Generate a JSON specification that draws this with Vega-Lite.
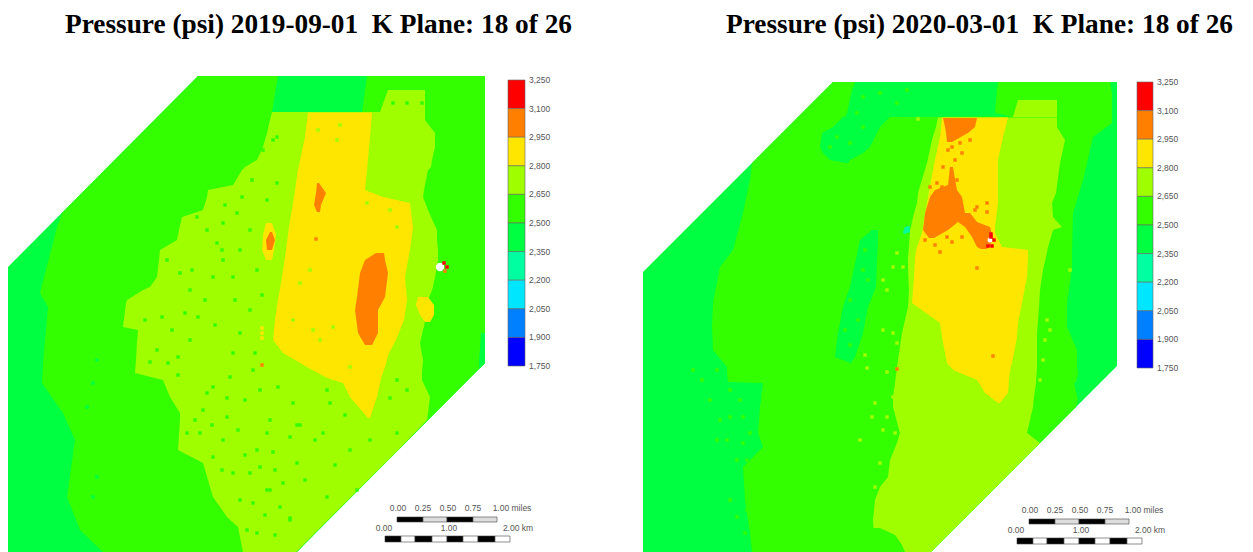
{"$schema":"https://vega.github.io/schema/vega-lite/v6.json","padding":0,"spacing":0,"background":"white","config":{"view":{"stroke":null},"concat":{"spacing":0}},
"datasets":{
"zones1":[
{"z":"o","p":2400,"y":76,"a":198,"b":485},{"z":"o","p":2400,"y":267,"a":8,"b":485},{"z":"o","p":2400,"y":363,"a":8,"b":485},{"z":"o","p":2400,"y":552,"a":8,"b":297},
{"z":"A","p":2575,"y":76,"a":198,"b":485},{"z":"A","p":2575,"y":213,"a":62,"b":485},{"z":"A","p":2575,"y":227,"a":57,"b":485},{"z":"A","p":2575,"y":293,"a":40,"b":485},{"z":"A","p":2575,"y":307,"a":48,"b":485},{"z":"A","p":2575,"y":363,"a":43,"b":485},{"z":"A","p":2575,"y":383,"a":42,"b":465},{"z":"A","p":2575,"y":413,"a":63,"b":435},{"z":"A","p":2575,"y":440,"a":75,"b":408},{"z":"A","p":2575,"y":497,"a":67,"b":351},{"z":"A","p":2575,"y":530,"a":80,"b":318},{"z":"A","p":2575,"y":552,"a":103,"b":297},
{"z":"k","p":2400,"y":76,"a":278,"b":367},{"z":"k","p":2400,"y":112,"a":272,"b":362},
{"z":"e","p":2400,"y":333,"a":481,"b":485},{"z":"e","p":2400,"y":363,"a":479,"b":485},{"z":"e","p":2400,"y":369,"a":479,"b":479},
{"z":"l","p":2725,"y":90,"a":388,"b":425},{"z":"l","p":2725,"y":112,"a":380,"b":425},
{"z":"B","p":2725,"y":112,"a":272,"b":425},{"z":"B","p":2725,"y":120,"a":270,"b":425},{"z":"B","p":2725,"y":133,"a":267,"b":435},{"z":"B","p":2725,"y":147,"a":263,"b":435},{"z":"B","p":2725,"y":160,"a":257,"b":432},{"z":"B","p":2725,"y":167,"a":245,"b":431},{"z":"B","p":2725,"y":170,"a":242,"b":428},{"z":"B","p":2725,"y":185,"a":233,"b":425},{"z":"B","p":2725,"y":190,"a":208,"b":424},{"z":"B","p":2725,"y":197,"a":207,"b":423},{"z":"B","p":2725,"y":210,"a":203,"b":428},{"z":"B","p":2725,"y":217,"a":182,"b":431},{"z":"B","p":2725,"y":230,"a":179,"b":437},{"z":"B","p":2725,"y":240,"a":177,"b":437},{"z":"B","p":2725,"y":250,"a":160,"b":438},{"z":"B","p":2725,"y":260,"a":159,"b":438},{"z":"B","p":2725,"y":277,"a":157,"b":435},{"z":"B","p":2725,"y":287,"a":150,"b":433},{"z":"B","p":2725,"y":290,"a":143,"b":432},{"z":"B","p":2725,"y":300,"a":127,"b":428},{"z":"B","p":2725,"y":303,"a":126,"b":427},{"z":"B","p":2725,"y":327,"a":123,"b":424},{"z":"B","p":2725,"y":330,"a":138,"b":423},{"z":"B","p":2725,"y":343,"a":137,"b":420},{"z":"B","p":2725,"y":360,"a":136,"b":423},{"z":"B","p":2725,"y":373,"a":135,"b":422},{"z":"B","p":2725,"y":380,"a":163,"b":422},{"z":"B","p":2725,"y":397,"a":170,"b":430},{"z":"B","p":2725,"y":413,"a":180,"b":428},{"z":"B","p":2725,"y":420,"a":180,"b":427},{"z":"B","p":2725,"y":450,"a":178,"b":398},{"z":"B","p":2725,"y":463,"a":203,"b":385},{"z":"B","p":2725,"y":497,"a":213,"b":351},{"z":"B","p":2725,"y":517,"a":227,"b":331},{"z":"B","p":2725,"y":527,"a":238,"b":321},{"z":"B","p":2725,"y":552,"a":243,"b":296},
{"z":"C","p":2875,"y":112.5,"a":308,"b":372},{"z":"C","p":2875,"y":137,"a":305,"b":370},{"z":"C","p":2875,"y":170,"a":298,"b":367},{"z":"C","p":2875,"y":190,"a":295,"b":365},{"z":"C","p":2875,"y":197,"a":294,"b":383},{"z":"C","p":2875,"y":203,"a":293,"b":410},{"z":"C","p":2875,"y":227,"a":289,"b":413},{"z":"C","p":2875,"y":250,"a":286,"b":410},{"z":"C","p":2875,"y":277,"a":282,"b":405},{"z":"C","p":2875,"y":300,"a":278,"b":407},{"z":"C","p":2875,"y":320,"a":275,"b":404},{"z":"C","p":2875,"y":340,"a":273,"b":396},{"z":"C","p":2875,"y":353,"a":283,"b":389},{"z":"C","p":2875,"y":367,"a":307,"b":385},{"z":"C","p":2875,"y":378,"a":327,"b":381},{"z":"C","p":2875,"y":383,"a":343,"b":380},{"z":"C","p":2875,"y":397,"a":350,"b":377},{"z":"C","p":2875,"y":418,"a":368,"b":370},
{"z":"c2","p":2875,"y":297,"a":418,"b":428},{"z":"c2","p":2875,"y":305,"a":416,"b":434},{"z":"c2","p":2875,"y":315,"a":420,"b":434},{"z":"c2","p":2875,"y":322,"a":425,"b":430},
{"z":"c3","p":2875,"y":223,"a":266,"b":272},{"z":"c3","p":2875,"y":235,"a":263,"b":276},{"z":"c3","p":2875,"y":250,"a":262,"b":274},{"z":"c3","p":2875,"y":260,"a":266,"b":272},
{"z":"D","p":3025,"y":253,"a":376,"b":384},{"z":"D","p":3025,"y":260,"a":365,"b":385},{"z":"D","p":3025,"y":273,"a":360,"b":388},{"z":"D","p":3025,"y":297,"a":357,"b":385},{"z":"D","p":3025,"y":310,"a":355,"b":378},{"z":"D","p":3025,"y":333,"a":358,"b":378},{"z":"D","p":3025,"y":345,"a":365,"b":372},
{"z":"d2","p":3025,"y":183,"a":317,"b":319},{"z":"d2","p":3025,"y":193,"a":316,"b":326},{"z":"d2","p":3025,"y":205,"a":314,"b":321},{"z":"d2","p":3025,"y":212,"a":317,"b":320},
{"z":"d3","p":3025,"y":232,"a":270,"b":272},{"z":"d3","p":3025,"y":240,"a":266,"b":275},{"z":"d3","p":3025,"y":250,"a":267,"b":272}
],
"specksOther1":[
{"a":145,"y":320,"p":2575},{"a":162,"y":317,"p":2575},{"a":185,"y":313,"p":2575},{"a":198,"y":317,"p":2575},{"a":157,"y":350,"p":2575},{"a":150,"y":362,"p":2575},{"a":168,"y":363,"p":2575},{"a":178,"y":357,"p":2575},{"a":207,"y":393,"p":2575},{"a":227,"y":398,"p":2575},{"a":227,"y":417,"p":2575},{"a":203,"y":410,"p":2575},{"a":195,"y":420,"p":2575},{"a":200,"y":433,"p":2575},{"a":223,"y":440,"p":2575},{"a":213,"y":457,"p":2575},{"a":233,"y":353,"p":2575},{"a":255,"y":353,"p":2575},{"a":260,"y":390,"p":2575},{"a":230,"y":377,"p":2575},{"a":213,"y":387,"p":2575},{"a":240,"y":333,"p":2575},{"a":270,"y":420,"p":2575},{"a":267,"y":433,"p":2575},{"a":257,"y":450,"p":2575},{"a":260,"y":467,"p":2575},{"a":250,"y":473,"p":2575},{"a":267,"y":490,"p":2575},{"a":240,"y":500,"p":2575},{"a":253,"y":503,"p":2575},{"a":280,"y":507,"p":2575},{"a":290,"y":518,"p":2575},{"a":247,"y":530,"p":2575},{"a":257,"y":533,"p":2575},{"a":273,"y":452,"p":2575},{"a":297,"y":425,"p":2575},{"a":293,"y":403,"p":2575},{"a":278,"y":387,"p":2575},{"a":233,"y":473,"p":2575},{"a":187,"y":433,"p":2575},
{"a":273,"y":140,"p":2575},{"a":263,"y":150,"p":2575},{"a":242,"y":197,"p":2575},{"a":237,"y":213,"p":2575},{"a":223,"y":223,"p":2575},{"a":207,"y":230,"p":2575},{"a":192,"y":270,"p":2575},{"a":180,"y":273,"p":2575},{"a":213,"y":277,"p":2575},{"a":233,"y":277,"p":2575},{"a":223,"y":260,"p":2575},{"a":222,"y":250,"p":2575},{"a":197,"y":217,"p":2575},{"a":277,"y":183,"p":2575},{"a":267,"y":200,"p":2575},{"a":240,"y":250,"p":2575},{"a":217,"y":243,"p":2575},{"a":167,"y":260,"p":2575},{"a":257,"y":270,"p":2575},{"a":250,"y":230,"p":2575},
{"a":300,"y":425,"p":2575},{"a":290,"y":437,"p":2575},{"a":323,"y":433,"p":2575},{"a":297,"y":463,"p":2575},{"a":330,"y":403,"p":2575},{"a":327,"y":390,"p":2575},{"a":397,"y":380,"p":2575},{"a":407,"y":390,"p":2575},{"a":390,"y":398,"p":2575},{"a":397,"y":433,"p":2575},{"a":350,"y":450,"p":2575},{"a":327,"y":497,"p":2575},{"a":270,"y":490,"p":2575},{"a":290,"y":520,"p":2575},{"a":357,"y":490,"p":2575},{"a":283,"y":483,"p":2575},{"a":253,"y":370,"p":2575},{"a":393,"y":103,"p":2575},{"a":407,"y":103,"p":2575},{"a":422,"y":103,"p":2575},{"a":277,"y":137,"p":2575},
{"a":172,"y":330,"p":2575},{"a":190,"y":340,"p":2575},{"a":215,"y":325,"p":2575},{"a":178,"y":375,"p":2575},{"a":245,"y":400,"p":2575},{"a":212,"y":425,"p":2575},{"a":238,"y":430,"p":2575},{"a":222,"y":470,"p":2575},{"a":245,"y":455,"p":2575},{"a":275,"y":470,"p":2575},{"a":305,"y":480,"p":2575},{"a":315,"y":440,"p":2575},{"a":345,"y":415,"p":2575},{"a":370,"y":440,"p":2575},{"a":335,"y":465,"p":2575},{"a":265,"y":515,"p":2575},{"a":275,"y":535,"p":2575},{"a":190,"y":290,"p":2575},{"a":205,"y":300,"p":2575},{"a":235,"y":300,"p":2575},{"a":250,"y":310,"p":2575},{"a":262,"y":295,"p":2575},{"a":225,"y":205,"p":2575},{"a":252,"y":180,"p":2575},
{"a":340,"y":125,"p":2725},{"a":318,"y":130,"p":2725},{"a":337,"y":140,"p":2725},{"a":370,"y":190,"p":2725},{"a":367,"y":203,"p":2725},{"a":390,"y":210,"p":2725},{"a":397,"y":227,"p":2725},{"a":310,"y":270,"p":2725},{"a":300,"y":283,"p":2725},{"a":320,"y":340,"p":2725},{"a":313,"y":330,"p":2725},{"a":333,"y":327,"p":2725},{"a":293,"y":320,"p":2725},{"a":350,"y":367,"p":2725},
{"a":262,"y":328,"p":2875},{"a":262,"y":333,"p":2875},{"a":262,"y":338,"p":2875},{"a":262,"y":365,"p":3025},{"a":316,"y":239,"p":3025},
{"a":93,"y":497,"p":2400},{"a":97,"y":477,"p":2400},{"a":87,"y":407,"p":2400},{"a":93,"y":383,"p":2400},{"a":97,"y":360,"p":2400},{"a":444,"y":263,"p":3200},{"a":447,"y":267,"p":3200},{"a":445,"y":271,"p":3025}
],
"nodata1":[{"a":440,"y":267}],
"bar1":[{"a":508,"b":525,"y":80,"y2":108.6,"p":3175},{"a":508,"b":525,"y":108.6,"y2":137.2,"p":3025},{"a":508,"b":525,"y":137.2,"y2":165.8,"p":2875},{"a":508,"b":525,"y":165.8,"y2":194.4,"p":2725},{"a":508,"b":525,"y":194.4,"y2":223,"p":2575},{"a":508,"b":525,"y":223,"y2":251.6,"p":2425},{"a":508,"b":525,"y":251.6,"y2":280.2,"p":2275},{"a":508,"b":525,"y":280.2,"y2":308.8,"p":2125},{"a":508,"b":525,"y":308.8,"y2":337.4,"p":1975},{"a":508,"b":525,"y":337.4,"y2":366,"p":1825}],
"scale1":[{"a":397,"b":423,"y":517,"y2":522,"s":"dark"},{"a":423,"b":447,"y":517,"y2":522,"s":"mid"},{"a":447,"b":473,"y":517,"y2":522,"s":"dark"},{"a":473,"b":497,"y":517,"y2":522,"s":"mid"},{"a":385,"b":401,"y":536,"y2":542,"s":"dark"},{"a":401,"b":415,"y":536,"y2":542,"s":"light"},{"a":415,"b":432,"y":536,"y2":542,"s":"dark"},{"a":432,"b":447,"y":536,"y2":542,"s":"light"},{"a":447,"b":463,"y":536,"y2":542,"s":"dark"},{"a":463,"b":478,"y":536,"y2":542,"s":"light"},{"a":478,"b":495,"y":536,"y2":542,"s":"dark"},{"a":495,"b":510,"y":536,"y2":542,"s":"light"}],
"barLabels1":[{"a":529,"y":80,"t":"3,250"},{"a":529,"y":108.6,"t":"3,100"},{"a":529,"y":137.2,"t":"2,950"},{"a":529,"y":165.8,"t":"2,800"},{"a":529,"y":194.4,"t":"2,650"},{"a":529,"y":223,"t":"2,500"},{"a":529,"y":251.6,"t":"2,350"},{"a":529,"y":280.2,"t":"2,200"},{"a":529,"y":308.8,"t":"2,050"},{"a":529,"y":337.4,"t":"1,900"},{"a":529,"y":366,"t":"1,750"}],
"scaleLabels1":[{"a":398,"y":508,"t":"0.00"},{"a":423,"y":508,"t":"0.25"},{"a":448,"y":508,"t":"0.50"},{"a":473,"y":508,"t":"0.75"},{"a":512,"y":508,"t":"1.00 miles"},{"a":384,"y":528,"t":"0.00"},{"a":449,"y":528,"t":"1.00"},{"a":518,"y":528,"t":"2.00 km"}],
"zones2":[
{"z":"o","p":2400,"y":82,"a":833,"b":1117},{"z":"o","p":2400,"y":272,"a":643,"b":1117},{"z":"o","p":2400,"y":366,"a":643,"b":1117},{"z":"o","p":2400,"y":552,"a":643,"b":931},
{"z":"A","p":2575,"y":82,"a":833,"b":1110},{"z":"A","p":2575,"y":93,"a":822,"b":1112},{"z":"A","p":2575,"y":123,"a":792,"b":1112},{"z":"A","p":2575,"y":137,"a":778,"b":1093},{"z":"A","p":2575,"y":163,"a":752,"b":1087},{"z":"A","p":2575,"y":180,"a":750,"b":1083},{"z":"A","p":2575,"y":213,"a":743,"b":1073},{"z":"A","p":2575,"y":250,"a":733,"b":1072},{"z":"A","p":2575,"y":267,"a":720,"b":1072},{"z":"A","p":2575,"y":303,"a":713,"b":1067},{"z":"A","p":2575,"y":327,"a":712,"b":1067},{"z":"A","p":2575,"y":350,"a":713,"b":1077},{"z":"A","p":2575,"y":367,"a":727,"b":1077},{"z":"A","p":2575,"y":373,"a":727,"b":1078},{"z":"A","p":2575,"y":382,"a":728,"b":1076},{"z":"A","p":2575,"y":383,"a":763,"b":1074},{"z":"A","p":2575,"y":400,"a":761,"b":1078},{"z":"A","p":2575,"y":407,"a":760,"b":1076},{"z":"A","p":2575,"y":433,"a":758,"b":1050},{"z":"A","p":2575,"y":447,"a":763,"b":1036},{"z":"A","p":2575,"y":467,"a":743,"b":1016},{"z":"A","p":2575,"y":500,"a":745,"b":983},{"z":"A","p":2575,"y":533,"a":750,"b":950},{"z":"A","p":2575,"y":552,"a":752,"b":931},
{"z":"k","p":2400,"y":82,"a":855,"b":998},{"z":"k","p":2400,"y":90,"a":852,"b":997},{"z":"k","p":2400,"y":113,"a":847,"b":995},{"z":"k","p":2400,"y":116.5,"a":845,"b":1012},{"z":"k","p":2400,"y":117,"a":843,"b":890},{"z":"k","p":2400,"y":127,"a":833,"b":880},{"z":"k","p":2400,"y":133,"a":822,"b":877},{"z":"k","p":2400,"y":147,"a":820,"b":870},{"z":"k","p":2400,"y":153,"a":823,"b":863},{"z":"k","p":2400,"y":160,"a":830,"b":850},{"z":"k","p":2400,"y":163,"a":845,"b":848},
{"z":"s","p":2400,"y":230,"a":872,"b":878},{"z":"s","p":2400,"y":240,"a":860,"b":878},{"z":"s","p":2400,"y":287,"a":850,"b":876},{"z":"s","p":2400,"y":307,"a":843,"b":868},{"z":"s","p":2400,"y":333,"a":838,"b":863},{"z":"s","p":2400,"y":357,"a":835,"b":855},{"z":"s","p":2400,"y":363,"a":850,"b":851},
{"z":"l","p":2725,"y":100,"a":1018,"b":1057},{"z":"l","p":2725,"y":117,"a":1013,"b":1057},
{"z":"B","p":2725,"y":117.5,"a":938,"b":1057},{"z":"B","p":2725,"y":127,"a":936,"b":1057},{"z":"B","p":2725,"y":140,"a":932,"b":1065},{"z":"B","p":2725,"y":163,"a":927,"b":1060},{"z":"B","p":2725,"y":193,"a":918,"b":1056},{"z":"B","p":2725,"y":203,"a":917,"b":1052},{"z":"B","p":2725,"y":217,"a":913,"b":1053},{"z":"B","p":2725,"y":227,"a":911,"b":1062},{"z":"B","p":2725,"y":230,"a":910,"b":1053},{"z":"B","p":2725,"y":247,"a":909,"b":1048},{"z":"B","p":2725,"y":257,"a":908,"b":1046},{"z":"B","p":2725,"y":270,"a":908,"b":1043},{"z":"B","p":2725,"y":290,"a":909,"b":1040},{"z":"B","p":2725,"y":307,"a":908,"b":1039},{"z":"B","p":2725,"y":333,"a":902,"b":1037},{"z":"B","p":2725,"y":367,"a":897,"b":1037},{"z":"B","p":2725,"y":383,"a":895,"b":1036},{"z":"B","p":2725,"y":397,"a":893,"b":1034},{"z":"B","p":2725,"y":407,"a":893,"b":1033},{"z":"B","p":2725,"y":433,"a":900,"b":1027},{"z":"B","p":2725,"y":443,"a":897,"b":1040},{"z":"B","p":2725,"y":460,"a":890,"b":1023},{"z":"B","p":2725,"y":477,"a":888,"b":1006},{"z":"B","p":2725,"y":487,"a":880,"b":996},{"z":"B","p":2725,"y":500,"a":875,"b":983},{"z":"B","p":2725,"y":520,"a":873,"b":963},{"z":"B","p":2725,"y":552,"a":875,"b":931},
{"z":"m","p":2575,"y":528,"a":873,"b":880},{"z":"m","p":2575,"y":535,"a":872,"b":895},{"z":"m","p":2575,"y":545,"a":872,"b":902},{"z":"m","p":2575,"y":552,"a":875,"b":905},
{"z":"C","p":2875,"y":117.5,"a":942,"b":1008},{"z":"C","p":2875,"y":137,"a":940,"b":1003},{"z":"C","p":2875,"y":160,"a":935,"b":998},{"z":"C","p":2875,"y":170,"a":933,"b":998},{"z":"C","p":2875,"y":203,"a":927,"b":998},{"z":"C","p":2875,"y":227,"a":923,"b":995},{"z":"C","p":2875,"y":233,"a":922,"b":995},{"z":"C","p":2875,"y":247,"a":917,"b":1002},{"z":"C","p":2875,"y":250,"a":916,"b":1028},{"z":"C","p":2875,"y":257,"a":915,"b":1028},{"z":"C","p":2875,"y":277,"a":914,"b":1027},{"z":"C","p":2875,"y":303,"a":912,"b":1022},{"z":"C","p":2875,"y":323,"a":940,"b":1018},{"z":"C","p":2875,"y":337,"a":942,"b":1017},{"z":"C","p":2875,"y":363,"a":947,"b":1012},{"z":"C","p":2875,"y":370,"a":953,"b":1010},{"z":"C","p":2875,"y":380,"a":977,"b":1009},{"z":"C","p":2875,"y":393,"a":985,"b":1008},{"z":"C","p":2875,"y":403,"a":998,"b":1000},
{"z":"D","p":3025,"y":118,"a":943,"b":977},{"z":"D","p":3025,"y":127,"a":945,"b":975},{"z":"D","p":3025,"y":133,"a":946,"b":968},{"z":"D","p":3025,"y":142,"a":947,"b":952},
{"z":"M1","p":3025,"y":167,"a":950,"b":953},{"z":"M1","p":3025,"y":185,"a":948,"b":956},{"z":"M1","p":3025,"y":190,"a":935,"b":957},{"z":"M1","p":3025,"y":197,"a":930,"b":962},{"z":"M1","p":3025,"y":213,"a":925,"b":965},{"z":"M1","p":3025,"y":222,"a":924,"b":958},{"z":"M1","p":3025,"y":230,"a":923,"b":948},{"z":"M1","p":3025,"y":238,"a":929,"b":934},
{"z":"M2","p":3025,"y":213,"a":962,"b":970},{"z":"M2","p":3025,"y":222,"a":958,"b":977},{"z":"M2","p":3025,"y":227,"a":965,"b":990},{"z":"M2","p":3025,"y":237,"a":972,"b":993},{"z":"M2","p":3025,"y":247,"a":977,"b":990},{"z":"M2","p":3025,"y":249,"a":981,"b":986}
],
"specksOther2":[
{"a":952,"y":147,"p":3025},{"a":960,"y":143,"p":3025},{"a":970,"y":140,"p":3025},{"a":962,"y":153,"p":3025},{"a":955,"y":160,"p":3025},{"a":948,"y":150,"p":3025},{"a":943,"y":167,"p":3025},{"a":937,"y":183,"p":3025},{"a":942,"y":187,"p":3025},{"a":930,"y":187,"p":3025},{"a":957,"y":180,"p":3025},{"a":977,"y":207,"p":3025},{"a":987,"y":203,"p":3025},{"a":987,"y":212,"p":3025},{"a":975,"y":210,"p":3025},{"a":925,"y":240,"p":3025},{"a":935,"y":245,"p":3025},{"a":940,"y":252,"p":3025},{"a":952,"y":242,"p":3025},{"a":962,"y":237,"p":3025},{"a":947,"y":237,"p":3025},{"a":977,"y":268,"p":3025},{"a":993,"y":356,"p":3025},{"a":897,"y":369,"p":3025},
{"a":897,"y":253,"p":2725},{"a":893,"y":267,"p":2725},{"a":903,"y":267,"p":2725},{"a":887,"y":290,"p":2725},{"a":883,"y":280,"p":2725},{"a":883,"y":330,"p":2725},{"a":893,"y":333,"p":2725},{"a":897,"y":343,"p":2725},{"a":865,"y":355,"p":2725},{"a":867,"y":368,"p":2725},{"a":875,"y":403,"p":2725},{"a":872,"y":417,"p":2725},{"a":887,"y":417,"p":2725},{"a":860,"y":440,"p":2725},{"a":883,"y":430,"p":2725},{"a":895,"y":433,"p":2725},{"a":880,"y":463,"p":2725},{"a":875,"y":487,"p":2725},{"a":893,"y":397,"p":2725},{"a":887,"y":372,"p":2725},{"a":1070,"y":270,"p":2725},{"a":1047,"y":320,"p":2725},{"a":1045,"y":340,"p":2725},{"a":1043,"y":360,"p":2725},{"a":1040,"y":380,"p":2725},{"a":1050,"y":330,"p":2725},{"a":918,"y":119,"p":2725},
{"a":730,"y":390,"p":2575},{"a":740,"y":400,"p":2575},{"a":720,"y":420,"p":2575},{"a":730,"y":417,"p":2575},{"a":743,"y":417,"p":2575},{"a":727,"y":440,"p":2575},{"a":743,"y":443,"p":2575},{"a":717,"y":440,"p":2575},{"a":750,"y":433,"p":2575},{"a":737,"y":460,"p":2575},{"a":747,"y":460,"p":2575},{"a":710,"y":400,"p":2575},{"a":693,"y":370,"p":2575},{"a":702,"y":380,"p":2575},{"a":717,"y":370,"p":2575},{"a":730,"y":500,"p":2575},{"a":737,"y":517,"p":2575},{"a":745,"y":533,"p":2575},{"a":747,"y":510,"p":2575},{"a":845,"y":330,"p":2575},{"a":850,"y":345,"p":2575},{"a":858,"y":320,"p":2575},{"a":850,"y":300,"p":2575},{"a":868,"y":280,"p":2575},{"a":865,"y":250,"p":2575},{"a":863,"y":270,"p":2575},{"a":863,"y":97,"p":2575},{"a":880,"y":93,"p":2575},{"a":897,"y":103,"p":2575},{"a":907,"y":90,"p":2575},{"a":857,"y":113,"p":2575},{"a":863,"y":127,"p":2575},{"a":830,"y":147,"p":2575},{"a":837,"y":137,"p":2575},{"a":850,"y":143,"p":2575},
{"a":906,"y":229,"p":2275},{"a":908,"y":231,"p":2275},{"a":905,"y":232,"p":2275},{"a":908,"y":228,"p":2275},{"a":991,"y":234,"p":3200},{"a":992,"y":246,"p":3200},{"a":994,"y":240,"p":3200},{"a":988,"y":246,"p":3200},{"a":991,"y":237,"p":3200}
],
"nodata2":[{"a":990,"y":240}],
"bar2":[{"a":1137,"b":1153,"y":82,"y2":110.6,"p":3175},{"a":1137,"b":1153,"y":110.6,"y2":139.2,"p":3025},{"a":1137,"b":1153,"y":139.2,"y2":167.8,"p":2875},{"a":1137,"b":1153,"y":167.8,"y2":196.4,"p":2725},{"a":1137,"b":1153,"y":196.4,"y2":225,"p":2575},{"a":1137,"b":1153,"y":225,"y2":253.6,"p":2425},{"a":1137,"b":1153,"y":253.6,"y2":282.2,"p":2275},{"a":1137,"b":1153,"y":282.2,"y2":310.8,"p":2125},{"a":1137,"b":1153,"y":310.8,"y2":339.4,"p":1975},{"a":1137,"b":1153,"y":339.4,"y2":368,"p":1825}],
"scale2":[{"a":1029,"b":1055,"y":519,"y2":524,"s":"dark"},{"a":1055,"b":1079,"y":519,"y2":524,"s":"mid"},{"a":1079,"b":1105,"y":519,"y2":524,"s":"dark"},{"a":1105,"b":1129,"y":519,"y2":524,"s":"mid"},{"a":1017,"b":1033,"y":538,"y2":544,"s":"dark"},{"a":1033,"b":1047,"y":538,"y2":544,"s":"light"},{"a":1047,"b":1064,"y":538,"y2":544,"s":"dark"},{"a":1064,"b":1079,"y":538,"y2":544,"s":"light"},{"a":1079,"b":1095,"y":538,"y2":544,"s":"dark"},{"a":1095,"b":1110,"y":538,"y2":544,"s":"light"},{"a":1110,"b":1127,"y":538,"y2":544,"s":"dark"},{"a":1127,"b":1142,"y":538,"y2":544,"s":"light"}],
"barLabels2":[{"a":1157,"y":82,"t":"3,250"},{"a":1157,"y":110.6,"t":"3,100"},{"a":1157,"y":139.2,"t":"2,950"},{"a":1157,"y":167.8,"t":"2,800"},{"a":1157,"y":196.4,"t":"2,650"},{"a":1157,"y":225,"t":"2,500"},{"a":1157,"y":253.6,"t":"2,350"},{"a":1157,"y":282.2,"t":"2,200"},{"a":1157,"y":310.8,"t":"2,050"},{"a":1157,"y":339.4,"t":"1,900"},{"a":1157,"y":368,"t":"1,750"}],
"scaleLabels2":[{"a":1030,"y":510,"t":"0.00"},{"a":1055,"y":510,"t":"0.25"},{"a":1080,"y":510,"t":"0.50"},{"a":1105,"y":510,"t":"0.75"},{"a":1144,"y":510,"t":"1.00 miles"},{"a":1016,"y":530,"t":"0.00"},{"a":1081,"y":530,"t":"1.00"},{"a":1150,"y":530,"t":"2.00 km"}]
},
"hconcat":[
{"width":626,"height":552,
"title":{"text":"Pressure (psi) 2019-09-01\u00a0\u00a0K Plane: 18 of 26","font":"Liberation Serif","fontSize":27.3,"fontWeight":"bold","color":"#000000","anchor":"start","frame":"group","dx":65,"offset":-38},
"encoding":{"x":{"field":"a","type":"quantitative","axis":null,"scale":{"domain":[0,626],"nice":false,"zero":false}},"y":{"field":"y","type":"quantitative","axis":null,"scale":{"domain":[0,552],"reverse":true,"nice":false,"zero":false}}},
"layer":[
{"data":{"name":"zones1"},"mark":{"type":"area","orient":"horizontal","interpolate":"linear"},"encoding":{"x2":{"field":"b"},"detail":{"field":"z"},"color":{"field":"p","type":"quantitative","legend":null,"scale":{"type":"threshold","domain":[1900,2050,2200,2350,2500,2650,2800,2950,3100],"range":["#0000ff","#0080ff","#00e6ff","#00ffa0","#00ff40","#33ff00","#9fff00","#ffe600","#ff8000","#ff0000"]}}}},
{"data":{"name":"nodata1"},"mark":{"type":"point","shape":"circle","filled":true,"size":70,"opacity":1,"color":"#ffffff"}},
{"data":{"name":"specksOther1"},"mark":{"type":"point","shape":"square","filled":true,"size":12,"opacity":1},"encoding":{"color":{"field":"p","type":"quantitative","legend":null,"scale":{"type":"threshold","domain":[1900,2050,2200,2350,2500,2650,2800,2950,3100],"range":["#0000ff","#0080ff","#00e6ff","#00ffa0","#00ff40","#33ff00","#9fff00","#ffe600","#ff8000","#ff0000"]}}}},
{"data":{"name":"bar1"},"mark":{"type":"rect","stroke":"#666666","strokeWidth":0.6},"encoding":{"x2":{"field":"b"},"y2":{"field":"y2"},"color":{"field":"p","type":"quantitative","legend":null,"scale":{"type":"threshold","domain":[1900,2050,2200,2350,2500,2650,2800,2950,3100],"range":["#0000ff","#0080ff","#00e6ff","#00ffa0","#00ff40","#33ff00","#9fff00","#ffe600","#ff8000","#ff0000"]}}}},
{"data":{"name":"scale1"},"mark":{"type":"rect","stroke":"#444444","strokeWidth":0.6},"encoding":{"x2":{"field":"b"},"y2":{"field":"y2"},"fill":{"field":"s","type":"nominal","legend":null,"scale":{"domain":["dark","mid","light"],"range":["#000000","#dddddd","#ffffff"]}}}},
{"data":{"name":"barLabels1"},"mark":{"type":"text","align":"left","baseline":"middle","font":"Liberation Sans","fontSize":8.5,"color":"#555555"},"encoding":{"text":{"field":"t"}}},
{"data":{"name":"scaleLabels1"},"mark":{"type":"text","align":"center","baseline":"middle","font":"Liberation Sans","fontSize":8.5,"color":"#555555"},"encoding":{"text":{"field":"t"}}}
]},
{"width":627,"height":552,
"title":{"text":"Pressure (psi) 2020-03-01\u00a0\u00a0K Plane: 18 of 26","font":"Liberation Serif","fontSize":27.3,"fontWeight":"bold","color":"#000000","anchor":"start","frame":"group","dx":100,"offset":-38},
"encoding":{"x":{"field":"a","type":"quantitative","axis":null,"scale":{"domain":[626,1253],"nice":false,"zero":false}},"y":{"field":"y","type":"quantitative","axis":null,"scale":{"domain":[0,552],"reverse":true,"nice":false,"zero":false}}},
"layer":[
{"data":{"name":"zones2"},"mark":{"type":"area","orient":"horizontal","interpolate":"linear"},"encoding":{"x2":{"field":"b"},"detail":{"field":"z"},"color":{"field":"p","type":"quantitative","legend":null,"scale":{"type":"threshold","domain":[1900,2050,2200,2350,2500,2650,2800,2950,3100],"range":["#0000ff","#0080ff","#00e6ff","#00ffa0","#00ff40","#33ff00","#9fff00","#ffe600","#ff8000","#ff0000"]}}}},
{"data":{"name":"nodata2"},"mark":{"type":"point","shape":"circle","filled":true,"size":25,"opacity":1,"color":"#ffffff"}},
{"data":{"name":"specksOther2"},"mark":{"type":"point","shape":"square","filled":true,"size":12,"opacity":1},"encoding":{"color":{"field":"p","type":"quantitative","legend":null,"scale":{"type":"threshold","domain":[1900,2050,2200,2350,2500,2650,2800,2950,3100],"range":["#0000ff","#0080ff","#00e6ff","#00ffa0","#00ff40","#33ff00","#9fff00","#ffe600","#ff8000","#ff0000"]}}}},
{"data":{"name":"bar2"},"mark":{"type":"rect","stroke":"#666666","strokeWidth":0.6},"encoding":{"x2":{"field":"b"},"y2":{"field":"y2"},"color":{"field":"p","type":"quantitative","legend":null,"scale":{"type":"threshold","domain":[1900,2050,2200,2350,2500,2650,2800,2950,3100],"range":["#0000ff","#0080ff","#00e6ff","#00ffa0","#00ff40","#33ff00","#9fff00","#ffe600","#ff8000","#ff0000"]}}}},
{"data":{"name":"scale2"},"mark":{"type":"rect","stroke":"#444444","strokeWidth":0.6},"encoding":{"x2":{"field":"b"},"y2":{"field":"y2"},"fill":{"field":"s","type":"nominal","legend":null,"scale":{"domain":["dark","mid","light"],"range":["#000000","#dddddd","#ffffff"]}}}},
{"data":{"name":"barLabels2"},"mark":{"type":"text","align":"left","baseline":"middle","font":"Liberation Sans","fontSize":8.5,"color":"#555555"},"encoding":{"text":{"field":"t"}}},
{"data":{"name":"scaleLabels2"},"mark":{"type":"text","align":"center","baseline":"middle","font":"Liberation Sans","fontSize":8.5,"color":"#555555"},"encoding":{"text":{"field":"t"}}}
]}
]}
